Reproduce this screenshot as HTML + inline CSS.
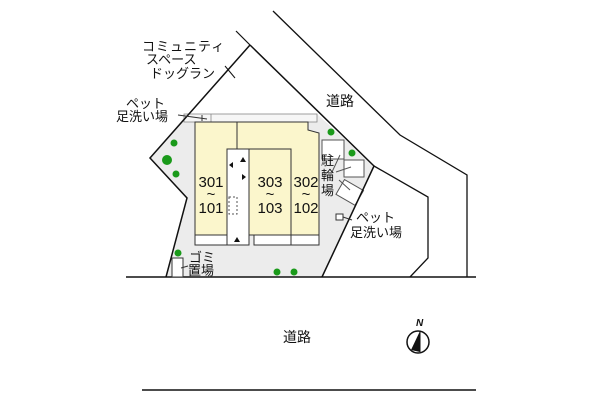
<!DOCTYPE html>
<html><head><meta charset="utf-8"><style>
html,body{margin:0;padding:0;background:#fff;width:600px;height:400px;overflow:hidden}
svg text{font-family:"Liberation Sans","Noto Sans CJK JP",sans-serif;fill:#111}
</style></head><body>
<svg width="600" height="400" viewBox="0 0 600 400" xmlns="http://www.w3.org/2000/svg">
<!-- site gray fill -->
<polygon points="187,114 317,114 374,166 322,277 166,277 187,198 150,158" fill="#ececec"/>
<!-- top strip -->
<rect x="184" y="114" width="133" height="8" fill="#f6f6f6" stroke="#888" stroke-width="0.8"/>
<line x1="211" y1="114" x2="211" y2="122" stroke="#888" stroke-width="0.8"/>
<!-- buildings -->
<rect x="195" y="122" width="42" height="113" fill="#fbf6cc" stroke="#333" stroke-width="1"/>
<polygon points="237,122 308,122 308,130 319,133 319,235 237,235" fill="#fbf6cc" stroke="#333" stroke-width="1"/>
<rect x="227" y="149" width="22" height="96" fill="#fff" stroke="#333" stroke-width="1"/>
<rect x="249" y="149" width="42" height="86" fill="#fbf6cc" stroke="#333" stroke-width="1"/>
<line x1="291" y1="149" x2="291" y2="245" stroke="#333"/>
<rect x="195" y="235" width="32" height="10" fill="#fff" stroke="#333"/>
<rect x="254" y="235" width="37" height="10" fill="#fff" stroke="#333"/>
<rect x="291" y="235" width="28" height="10" fill="#fff" stroke="#333"/>
<rect x="229" y="197" width="8" height="17" fill="none" stroke="#555" stroke-dasharray="2,2"/>
<!-- arrows -->
<polygon points="243,157 240,162 246,162" fill="#111"/>
<polygon points="229,165 233,162 233,168" fill="#111"/>
<polygon points="246,177 242,174 242,180" fill="#111"/>
<polygon points="237,237 234,242 240,242" fill="#111"/>
<!-- bike parking -->
<rect x="322" y="140" width="22" height="19" fill="#fff" stroke="#555"/>
<rect x="344" y="160" width="20" height="17" fill="#fff" stroke="#555"/>
<rect x="339" y="184" width="22" height="17" fill="#fff" stroke="#555" transform="rotate(30 350 192)"/>
<line x1="340" y1="155" x2="332" y2="172" stroke="#555"/>
<line x1="351" y1="167" x2="336" y2="172" stroke="#555"/>
<line x1="339" y1="180" x2="350" y2="190" stroke="#555"/>
<!-- site outline -->
<polyline points="250,45 150,158 187,198 166,277" fill="none" stroke="#111" stroke-width="1.5"/>
<polyline points="250,45 374,166 322,277" fill="none" stroke="#111" stroke-width="1.5"/>
<line x1="236" y1="31" x2="250" y2="45" stroke="#111" stroke-width="1.2"/>
<line x1="225" y1="66" x2="235" y2="78" stroke="#111" stroke-width="1"/>
<!-- roads -->
<polyline points="273,11 400,135 467,175 467,277" fill="none" stroke="#111" stroke-width="1.3"/>
<polyline points="374,166 428,197 428,258 410,277" fill="none" stroke="#111" stroke-width="1.3"/>
<line x1="126" y1="277" x2="476" y2="277" stroke="#111" stroke-width="1.5"/>
<line x1="142" y1="390" x2="476" y2="390" stroke="#111" stroke-width="1.5"/>
<!-- trees -->
<g fill="#1a9a1a">
<circle cx="174" cy="143" r="3.5"/><circle cx="167" cy="160" r="5"/><circle cx="176" cy="174" r="3.5"/>
<circle cx="178" cy="253" r="3.5"/><circle cx="277" cy="272" r="3.5"/><circle cx="294" cy="272" r="3.5"/>
<circle cx="331" cy="132" r="3.5"/><circle cx="352" cy="153" r="3.5"/>
</g>
<!-- gomi -->
<rect x="172" y="258" width="11" height="19" fill="#fff" stroke="#333"/>
<line x1="181" y1="268" x2="188" y2="266" stroke="#333"/>
<!-- pet boxes -->
<rect x="336" y="214" width="7" height="6" fill="#fff" stroke="#333"/>
<line x1="343" y1="217" x2="352" y2="220" stroke="#333"/>
<line x1="178" y1="115" x2="207" y2="119" stroke="#333"/>
<line x1="202" y1="115" x2="202" y2="121" stroke="#333"/>
<!-- labels -->
<g font-size="13">
<text x="142" y="51" letter-spacing="1">コミュニティ</text>
<text x="146" y="64">スペース</text>
<text x="150" y="78">ドッグラン</text>
<text x="326" y="106" font-size="14">道路</text>
<text x="126" y="108">ペット</text>
<text x="116" y="121">足洗い場</text>
<text x="321" y="165">駐</text>
<text x="321" y="180">輪</text>
<text x="321" y="195">場</text>
<text x="356" y="222">ペット</text>
<text x="350" y="237">足洗い場</text>
<text x="189" y="262">ゴミ</text>
<text x="188" y="275">置場</text>
<text x="283" y="342" font-size="14">道路</text>
</g>
<g font-size="15" text-anchor="middle">
<text x="211" y="187">301</text><text x="211" y="199">~</text><text x="211" y="213">101</text>
<text x="270" y="187">303</text><text x="270" y="199">~</text><text x="270" y="213">103</text>
<text x="306" y="187">302</text><text x="306" y="199">~</text><text x="306" y="213">102</text>
</g>
<!-- north -->
<circle cx="418" cy="342" r="11" fill="#fff" stroke="#111" stroke-width="1.5"/>
<polygon points="420,331 411,350 420,352" fill="#111"/>
<line x1="420" y1="331" x2="420" y2="352" stroke="#111"/>
<text x="416" y="326" font-size="10" font-style="italic" font-weight="bold">N</text>
</svg>
</body></html>
